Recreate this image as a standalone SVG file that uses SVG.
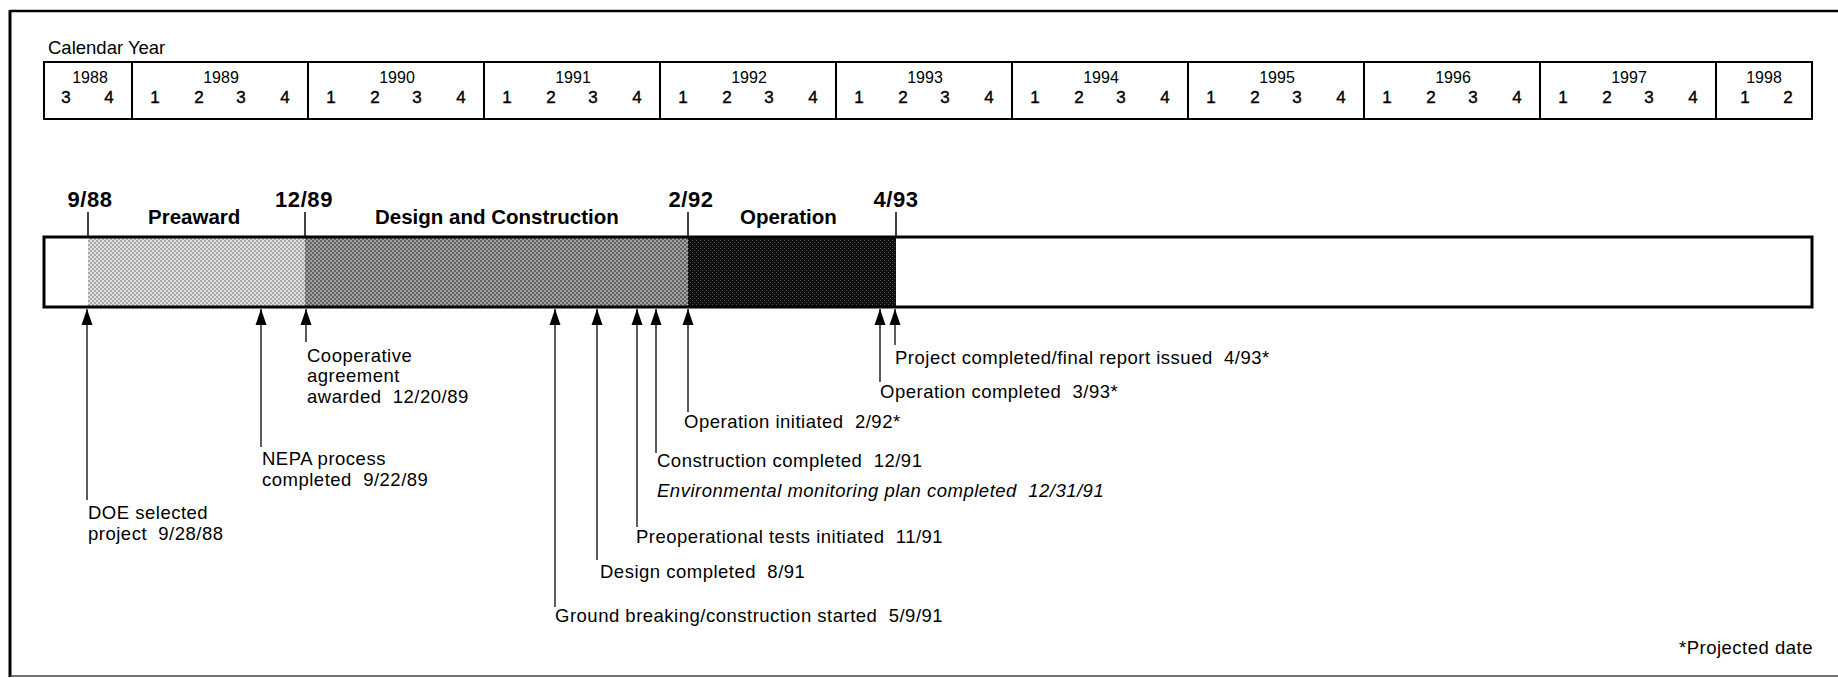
<svg xmlns="http://www.w3.org/2000/svg" width="1838" height="678" viewBox="0 0 1838 678">
<defs>
<style>
text{font-family:"Liberation Sans",Arial,Helvetica,sans-serif;fill:#000}
.cal{font-size:18.5px}
.yr{font-size:16px;text-anchor:middle}
.q{font-size:17px;text-anchor:middle;stroke:#000;stroke-width:0.4}
.ph{font-size:20.5px;font-weight:bold}
.dt{font-size:22px;font-weight:bold;text-anchor:middle;letter-spacing:0.6px}
.lb{font-size:18.5px;letter-spacing:0.5px}
.it{font-style:italic}
.tbl{fill:none;stroke:#000;stroke-width:2}
.div{stroke:#000;stroke-width:2}
.tick{stroke:#000;stroke-width:1.5}
.conn{stroke:#000;stroke-width:1.3;fill:none}
</style>
<pattern id="pLight" width="4" height="4" patternUnits="userSpaceOnUse">
<rect width="4" height="4" fill="#e0e0e0"/>
<rect width="2" height="2" fill="#a8a8a8"/>
<rect x="2" y="2" width="2" height="2" fill="#a8a8a8"/>
</pattern>
<pattern id="pMid" width="4" height="4" patternUnits="userSpaceOnUse">
<rect width="4" height="4" fill="#a0a0a0"/>
<rect width="2" height="2" fill="#626262"/>
<rect x="2" y="2" width="2" height="2" fill="#626262"/>
</pattern>
<pattern id="pDark" width="4" height="4" patternUnits="userSpaceOnUse">
<rect width="4" height="4" fill="#111"/>
<rect width="1" height="1" fill="#555"/>
<rect x="2" y="2" width="1" height="1" fill="#444"/>
</pattern>
<marker id="ah" markerUnits="userSpaceOnUse" markerWidth="17" markerHeight="12" refX="16" refY="6" orient="auto">
<path d="M0,0.5 L16,6 L0,11.5 z" fill="#000"/>
</marker>
</defs>

<g id="frame">
<line x1="10" y1="11" x2="1838" y2="11" stroke="#000" stroke-width="2.5"/>
<line x1="10" y1="10" x2="10" y2="677" stroke="#000" stroke-width="3"/>
<line x1="10" y1="676" x2="1838" y2="676" stroke="#444" stroke-width="1.5"/>
</g>

<g id="calendar">
<text class="cal" x="48" y="54">Calendar Year</text>
<rect class="tbl" x="44" y="62" width="1768" height="57"/>
<line class="div" x1="132" y1="62" x2="132" y2="119"/>
<line class="div" x1="308" y1="62" x2="308" y2="119"/>
<line class="div" x1="484" y1="62" x2="484" y2="119"/>
<line class="div" x1="660" y1="62" x2="660" y2="119"/>
<line class="div" x1="836" y1="62" x2="836" y2="119"/>
<line class="div" x1="1012" y1="62" x2="1012" y2="119"/>
<line class="div" x1="1188" y1="62" x2="1188" y2="119"/>
<line class="div" x1="1364" y1="62" x2="1364" y2="119"/>
<line class="div" x1="1540" y1="62" x2="1540" y2="119"/>
<line class="div" x1="1716" y1="62" x2="1716" y2="119"/>
<text class="yr" x="90" y="83">1988</text>
<text class="yr" x="221" y="83">1989</text>
<text class="yr" x="397" y="83">1990</text>
<text class="yr" x="573" y="83">1991</text>
<text class="yr" x="749" y="83">1992</text>
<text class="yr" x="925" y="83">1993</text>
<text class="yr" x="1101" y="83">1994</text>
<text class="yr" x="1277" y="83">1995</text>
<text class="yr" x="1453" y="83">1996</text>
<text class="yr" x="1629" y="83">1997</text>
<text class="yr" x="1764" y="83">1998</text>
<text class="q" x="66" y="103">3</text><text class="q" x="109" y="103">4</text>
<text class="q" x="155" y="103">1</text><text class="q" x="199" y="103">2</text><text class="q" x="241" y="103">3</text><text class="q" x="285" y="103">4</text>
<text class="q" x="331" y="103">1</text><text class="q" x="375" y="103">2</text><text class="q" x="417" y="103">3</text><text class="q" x="461" y="103">4</text>
<text class="q" x="507" y="103">1</text><text class="q" x="551" y="103">2</text><text class="q" x="593" y="103">3</text><text class="q" x="637" y="103">4</text>
<text class="q" x="683" y="103">1</text><text class="q" x="727" y="103">2</text><text class="q" x="769" y="103">3</text><text class="q" x="813" y="103">4</text>
<text class="q" x="859" y="103">1</text><text class="q" x="903" y="103">2</text><text class="q" x="945" y="103">3</text><text class="q" x="989" y="103">4</text>
<text class="q" x="1035" y="103">1</text><text class="q" x="1079" y="103">2</text><text class="q" x="1121" y="103">3</text><text class="q" x="1165" y="103">4</text>
<text class="q" x="1211" y="103">1</text><text class="q" x="1255" y="103">2</text><text class="q" x="1297" y="103">3</text><text class="q" x="1341" y="103">4</text>
<text class="q" x="1387" y="103">1</text><text class="q" x="1431" y="103">2</text><text class="q" x="1473" y="103">3</text><text class="q" x="1517" y="103">4</text>
<text class="q" x="1563" y="103">1</text><text class="q" x="1607" y="103">2</text><text class="q" x="1649" y="103">3</text><text class="q" x="1693" y="103">4</text>
<text class="q" x="1745" y="103">1</text><text class="q" x="1788" y="103">2</text>
</g>

<g id="bar">
<rect x="88" y="237" width="217" height="70" fill="url(#pLight)"/>
<rect x="305" y="237" width="383" height="70" fill="url(#pMid)"/>
<rect x="688" y="237" width="208" height="70" fill="url(#pDark)"/>
<rect x="44" y="237" width="1768" height="70" fill="none" stroke="#000" stroke-width="3"/>
</g>

<g id="phases">
<text class="dt" x="90" y="207">9/88</text>
<line class="tick" x1="88" y1="212" x2="88" y2="237"/>
<text class="ph" x="148" y="224">Preaward</text>
<text class="dt" x="304" y="207">12/89</text>
<line class="tick" x1="305" y1="212" x2="305" y2="237"/>
<text class="ph" x="375" y="224">Design and Construction</text>
<text class="dt" x="691" y="207">2/92</text>
<line class="tick" x1="688" y1="212" x2="688" y2="237"/>
<text class="ph" x="740" y="224">Operation</text>
<text class="dt" x="896" y="207">4/93</text>
<line class="tick" x1="896" y1="212" x2="896" y2="237"/>
</g>

<g id="connectors">
<line class="conn" x1="87" y1="500" x2="87" y2="309" marker-end="url(#ah)"/>
<line class="conn" x1="261" y1="447" x2="261" y2="309" marker-end="url(#ah)"/>
<line class="conn" x1="306" y1="342" x2="306" y2="309" marker-end="url(#ah)"/>
<line class="conn" x1="555" y1="607" x2="555" y2="309" marker-end="url(#ah)"/>
<line class="conn" x1="597" y1="560" x2="597" y2="309" marker-end="url(#ah)"/>
<line class="conn" x1="637" y1="527" x2="637" y2="309" marker-end="url(#ah)"/>
<line class="conn" x1="656" y1="453" x2="656" y2="309" marker-end="url(#ah)"/>
<line class="conn" x1="688" y1="412" x2="688" y2="309" marker-end="url(#ah)"/>
<line class="conn" x1="880" y1="382" x2="880" y2="309" marker-end="url(#ah)"/>
<line class="conn" x1="895" y1="345" x2="895" y2="309" marker-end="url(#ah)"/>
</g>

<g id="m-doe"><text class="lb" x="88" y="519">DOE selected</text><text class="lb" x="88" y="540" xml:space="preserve">project  9/28/88</text></g>
<g id="m-nepa"><text class="lb" x="262" y="465">NEPA process</text><text class="lb" x="262" y="486" xml:space="preserve">completed  9/22/89</text></g>
<g id="m-coop"><text class="lb" x="307" y="362">Cooperative</text><text class="lb" x="307" y="382">agreement</text><text class="lb" x="307" y="403" xml:space="preserve">awarded  12/20/89</text></g>
<g id="m-ground"><text class="lb" x="555" y="622" xml:space="preserve">Ground breaking/construction started  5/9/91</text></g>
<g id="m-design"><text class="lb" x="600" y="578" xml:space="preserve">Design completed  8/91</text></g>
<g id="m-preop"><text class="lb" x="636" y="543" xml:space="preserve">Preoperational tests initiated  11/91</text></g>
<g id="m-constr"><text class="lb" x="657" y="467" xml:space="preserve">Construction completed  12/91</text></g>
<g id="m-env"><text class="lb it" x="657" y="497" xml:space="preserve">Environmental monitoring plan completed  12/31/91</text></g>
<g id="m-opinit"><text class="lb" x="684" y="428" xml:space="preserve">Operation initiated  2/92*</text></g>
<g id="m-opcomp"><text class="lb" x="880" y="398" xml:space="preserve">Operation completed  3/93*</text></g>
<g id="m-project"><text class="lb" x="895" y="364" xml:space="preserve">Project completed/final report issued  4/93*</text></g>
<g id="note"><text class="lb" x="1813" y="654" text-anchor="end">*Projected date</text></g>
</svg>
